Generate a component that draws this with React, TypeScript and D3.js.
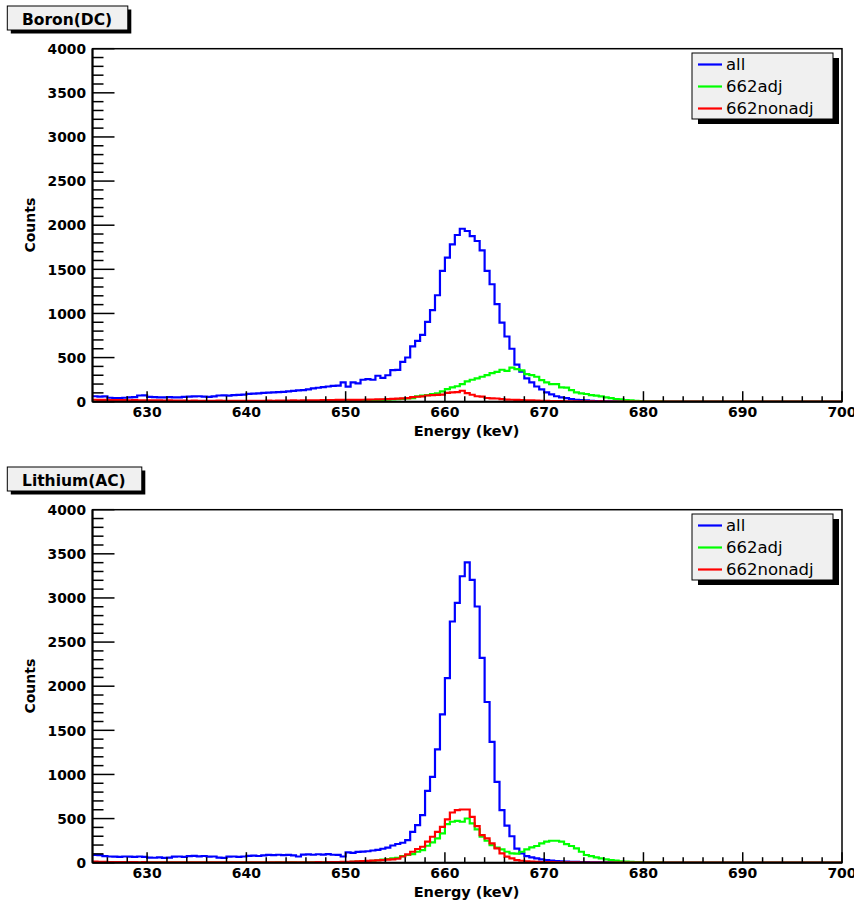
import React from 'react';
import * as d3 from 'd3';

// ---- data (bin contents, 0.5 keV bins starting at 624.5 keV) ----
const binStart = 624.5;
const binWidth = 0.5;
const xDomain = [624.5, 700];
const yDomain = [0, 4000];
const xMajorTicks = [630, 640, 650, 660, 670, 680, 690, 700];
const yMajorTicks = [0, 500, 1000, 1500, 2000, 2500, 3000, 3500, 4000];
const legendLabels = ['all', '662adj', '662nonadj'];
const seriesColors = ['#0000ff', '#00ff00', '#ff0000'];
const panelTitles = ['Boron(DC)', 'Lithium(AC)'];

const boronAll = [
  62, 58, 60, 45, 40, 42, 45, 48, 52, 70, 72,
  55, 52, 50, 50, 52, 48, 50, 55, 58, 60, 62, 58, 55, 60, 70, 72, 68, 74, 78, 80,
  88, 92, 95, 100, 102, 105, 108, 112, 118, 122, 128, 132, 140, 150, 158, 165, 172, 180, 182, 219,
  170, 219, 207, 249, 256, 249, 294, 270, 300, 358, 360, 452, 501, 626, 690, 758, 905, 1037, 1206, 1482,
  1632, 1783, 1889, 1960, 1934, 1877, 1821, 1715, 1482, 1331, 1105, 897, 739, 600, 420, 340, 265, 220, 172, 140,
  105, 82, 62, 50, 40, 30, 22, 18, 14, 10, 8, 6, 5, 4, 3, 3, 2, 2, 1, 2,
  1, 1, 2, 1, 0, 1, 1, 0, 1, 0, 0, 1, 0, 0, 1, 0, 0, 0, 1, 0,
  0, 0, 1, 0, 0, 0, 0, 0, 0, 1, 0, 0, 0, 0, 0, 0, 0, 0, 0, 0,
];
const boronAdj = [
  2, 1, 0, 1, 2, 0, 1, 1, 2, 0, 1, 0, 1, 2, 1, 0, 1, 1, 0, 2,
  1, 1, 0, 1, 2, 1, 1, 0, 2, 1, 1, 2, 1, 1, 2, 2, 1, 3, 2, 2,
  3, 2, 3, 4, 3, 4, 5, 4, 5, 6, 7,
  8, 9, 10, 12, 14, 15, 18, 20, 22, 25, 28, 32, 36,
  41, 60, 68, 75, 85, 95, 117,
  143, 162, 175, 200, 230, 249, 264, 283, 302, 324, 339, 362, 350, 385, 369, 355, 313, 302, 283, 245,
  219, 200, 200, 162, 160, 132, 106, 94, 87, 75, 68, 60, 49, 41, 30, 26, 19, 15, 10, 8,
  5, 4, 3, 3, 2, 2, 1, 2, 1, 1, 0, 1, 1, 0, 0, 1, 0, 0, 0, 1,
  0, 0, 0, 1, 0, 0, 0, 0, 0, 0, 0, 0, 1, 0, 0, 0, 0, 0, 0, 0,
];
const boronNonAdj = [
  22, 20, 21, 18, 19, 17, 18, 16, 17, 15, 16, 15, 14, 15, 13, 14, 12, 13, 12, 11, 12, 11, 10, 11, 10, 12, 10, 11, 10, 9, 11, 10,
  10, 11, 10, 12, 11, 12, 13, 12, 14, 13, 15, 14, 16, 15, 17, 18, 19, 20, 21, 22,
  20, 21, 22, 24, 25, 27, 28, 30, 32, 35, 38, 40, 52, 56, 60, 70, 75, 78, 80,
  100, 105, 108, 124, 98, 79, 62, 58, 42, 38, 36, 30, 24, 22, 20, 18, 16, 14, 12, 10,
  9, 8, 7, 6, 5, 5, 4, 4, 3, 3, 2, 3, 2, 2, 1, 2, 1, 1, 2, 1,
  1, 0, 1, 1, 0, 1, 0, 0, 1, 0, 0, 0, 1, 0, 0, 0, 0, 1, 0, 0,
  0, 0, 0, 0, 0, 0, 0, 0, 0, 0, 0, 0, 0, 0, 0, 0, 0, 0, 0, 0,
];

const lithiumAll = [
  88, 86, 75, 70, 68, 66, 70, 68, 66, 70, 67,
  58, 56, 60, 55, 58, 68, 70, 66, 75, 78, 72, 76, 68, 70, 58, 55, 68, 70, 66, 70,
  78, 80, 76, 82, 88, 86, 90, 85, 88, 84, 70, 92, 95, 90, 96, 92, 98, 90, 88, 70,
  118, 112, 122, 126, 130, 138, 145, 158, 170, 195, 212, 226, 256, 350, 426, 539, 814, 972, 1285, 1681,
  2092, 2733, 2944, 3246, 3404, 3205, 2903, 2322, 1821, 1369, 916, 596, 420, 300, 160, 106, 75, 60, 49, 38,
  30, 23, 18, 15, 12, 10, 9, 8, 6, 5, 5, 4, 3, 3, 2, 2, 2, 1, 2, 1,
  1, 1, 0, 1, 1, 0, 1, 0, 0, 1, 0, 0, 1, 0, 0, 0, 1, 0, 0, 0,
  0, 0, 0, 0, 1, 0, 0, 0, 0, 0, 0, 0, 0, 0, 0, 1, 0, 0, 0, 0,
];
const lithiumAdj = [
  3, 2, 2, 1, 2, 1, 1, 2, 1, 1, 2, 1, 1, 1, 2, 1, 0, 1, 1, 2,
  1, 1, 1, 2, 1, 1, 2, 1, 1, 2, 2, 1, 2, 2, 1, 2, 2, 3, 2, 3,
  3, 2, 3, 4, 3, 4, 4, 5, 5, 6, 7,
  8, 10, 12, 14, 18, 22, 28, 35, 42, 48, 55, 75, 87, 98, 124, 143, 192, 230, 275, 332,
  437, 464, 475, 464, 501, 445, 377, 294, 249, 200, 170, 151, 124, 106, 102, 124, 151, 173, 189, 219,
  238, 249, 249, 238, 211, 189, 162, 124, 87, 75, 60, 49, 38, 30, 23, 15, 13, 10, 8, 6,
  5, 4, 3, 3, 2, 2, 1, 2, 1, 1, 1, 0, 1, 0, 1, 0, 0, 1, 0, 0,
  0, 0, 0, 0, 0, 1, 0, 0, 0, 0, 0, 0, 0, 0, 0, 0, 0, 0, 0, 0,
];
const lithiumNonAdj = [
  12, 10, 9, 8, 8, 7, 7, 6, 6, 5, 6, 5, 5, 4, 5, 4, 4, 5, 4, 3,
  4, 4, 3, 4, 3, 4, 3, 3, 4, 3, 3, 4, 3, 4, 3, 4, 4, 3, 4, 5,
  4, 5, 4, 5, 5, 6, 5, 6, 7, 8, 9,
  10, 12, 15, 18, 20, 23, 26, 30, 34, 38, 45, 70, 95, 124, 155, 181, 238, 294, 350, 407,
  490, 569, 596, 603, 603, 520, 415, 313, 275, 219, 162, 106, 68, 49, 30, 22, 16, 12, 10, 8,
  7, 6, 5, 4, 4, 3, 3, 2, 2, 2, 1, 2, 1, 1, 1, 0, 1, 1, 0, 1,
  0, 1, 0, 0, 1, 0, 0, 0, 1, 0, 0, 0, 0, 1, 0, 0, 0, 0, 0, 0,
  0, 0, 0, 0, 0, 0, 0, 0, 0, 0, 0, 0, 0, 0, 0, 0, 0, 0, 0, 0,
];

const panelSeries = [
  [boronAll, boronAdj, boronNonAdj],
  [lithiumAll, lithiumAdj, lithiumNonAdj],
];

// ---- layout ----
const W = 854;
const H = 905;
const plotLeft = 92.5;
const plotRight = 842;
const panelOffset = 461;
const plotTop0 = 48.7;
const plotBottom0 = 401.7;
const boldFont = '"DejaVu Sans", sans-serif';

function Panel({ index }: { index: number }) {
  const dy = index * panelOffset;
  const top = plotTop0 + dy;
  const bottom = plotBottom0 + dy;
  const x = d3.scaleLinear().domain(xDomain).range([plotLeft, plotRight]);
  const y = d3.scaleLinear().domain(yDomain).range([bottom, top]);
  const line = d3
    .line<[number, number]>()
    .x((d) => x(d[0]))
    .y((d) => y(d[1]))
    .curve(d3.curveStepAfter);
  const series = panelSeries[index];
  const clipId = `clip${index}`;
  const yMinor = d3.range(yDomain[0], yDomain[1] + 1, 100).filter((v) => v % 500 !== 0);
  const xMinor = d3.range(626, 700, 2).filter((v) => v % 10 !== 0);
  const title = panelTitles[index];
  const titleW = index === 0 ? 120.5 : 134.5;
  const titleY = 6 + dy;
  const legX = 692;
  const legY = 53 + dy;
  const legW = 141;
  const legH = 66;

  return (
    <g>
      <defs>
        <clipPath id={clipId}>
          <rect x={plotLeft} y={top} width={plotRight - plotLeft} height={bottom - top} />
        </clipPath>
      </defs>
      {/* title box */}
      <rect x={7.3 + 3.5} y={titleY + 3.5} width={titleW} height={24} fill="#000" />
      <rect x={7.3} y={titleY} width={titleW} height={24} fill="#f0f0f0" stroke="#000" strokeWidth={1} />
      <text x={22} y={titleY + 18.5} fontFamily={boldFont} fontWeight="bold" fontSize={15.5} fill="#000">
        {title}
      </text>

      {/* histograms */}
      <g clipPath={`url(#${clipId})`}>
        {series.map((vals, si) => {
          const pts: [number, number][] = vals.map((v, i) => [binStart + i * binWidth, v]);
          pts.push([binStart + vals.length * binWidth, vals[vals.length - 1]]);
          return (
            <path key={si} d={line(pts) || ''} fill="none" stroke={seriesColors[si]} strokeWidth={2.2} />
          );
        })}
      </g>

      {/* frame */}
      <rect x={plotLeft} y={top} width={plotRight - plotLeft} height={bottom - top} fill="none" stroke="#000" strokeWidth={1.5} />
      <line x1={plotLeft} x2={plotLeft} y1={top} y2={bottom} stroke="#000" strokeWidth={2} />
      <line x1={plotLeft} x2={plotRight} y1={bottom} y2={bottom} stroke="#000" strokeWidth={2} />

      {/* y ticks */}
      {yMajorTicks.map((v) => (
        <g key={`ym${v}`}>
          <line x1={plotLeft} x2={plotLeft + 22} y1={y(v)} y2={y(v)} stroke="#000" strokeWidth={1.5} />
          <text x={86} y={y(v) + 5.2} textAnchor="end" fontFamily={boldFont} fontWeight="bold" fontSize={13.8} fill="#000">
            {v}
          </text>
        </g>
      ))}
      {yMinor.map((v) => (
        <line key={`yn${v}`} x1={plotLeft} x2={plotLeft + 11} y1={y(v)} y2={y(v)} stroke="#000" strokeWidth={1.5} />
      ))}

      {/* x ticks */}
      {xMajorTicks.map((v) => (
        <g key={`xm${v}`}>
          <line x1={x(v)} x2={x(v)} y1={bottom} y2={bottom - 10.5} stroke="#000" strokeWidth={1.5} />
          <text x={x(v)} y={bottom + 15.3} textAnchor="middle" fontFamily={boldFont} fontWeight="bold" fontSize={14} fill="#000">
            {v}
          </text>
        </g>
      ))}
      {xMinor.map((v) => (
        <line key={`xn${v}`} x1={x(v)} x2={x(v)} y1={bottom} y2={bottom - 5.5} stroke="#000" strokeWidth={1.5} />
      ))}

      {/* axis titles */}
      <text x={466.5} y={bottom + 34} textAnchor="middle" fontFamily={boldFont} fontWeight="bold" fontSize={14.5} fill="#000">
        Energy (keV)
      </text>
      <text
        transform={`translate(35,${(top + bottom) / 2}) rotate(-90)`}
        textAnchor="middle"
        fontFamily={boldFont}
        fontWeight="bold"
        fontSize={14}
        fill="#000"
      >
        Counts
      </text>

      {/* legend */}
      <rect x={legX + 6} y={legY + 5} width={legW} height={legH} fill="#000" />
      <rect x={legX} y={legY} width={legW} height={legH} fill="#f0f0f0" stroke="#000" strokeWidth={1} />
      {legendLabels.map((lab, li) => {
        const cy = legY + 11.5 + li * 22;
        return (
          <g key={lab}>
            <line x1={legX + 6} x2={legX + 30} y1={cy} y2={cy} stroke={seriesColors[li]} strokeWidth={2.2} />
            <text x={legX + 34} y={cy + 5.8} fontFamily={boldFont} fontSize={16.5} fill="#000">
              {lab}
            </text>
          </g>
        );
      })}
    </g>
  );
}

export default function App() {
  return (
    <svg
      width={W}
      height={H}
      viewBox={`0 0 ${W} ${H}`}
      style={{ position: 'absolute', left: 0, top: 0, background: '#fff' }}
    >
      <rect x={0} y={0} width={W} height={H} fill="#fff" />
      <Panel index={0} />
      <Panel index={1} />
    </svg>
  );
}
